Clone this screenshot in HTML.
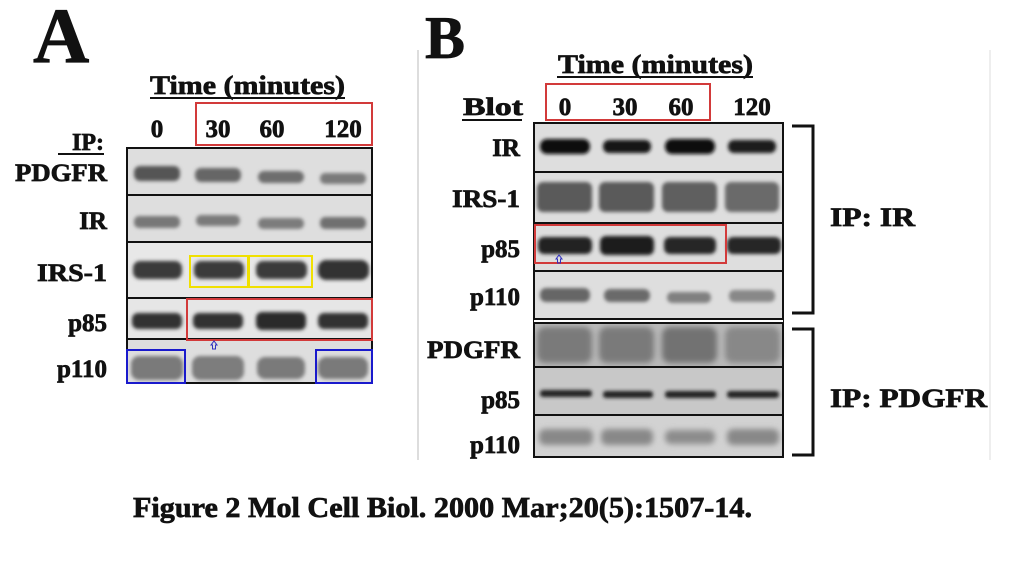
<!DOCTYPE html>
<html><head><meta charset="utf-8"><style>
html,body{margin:0;padding:0;background:#fff;width:1024px;height:587px;overflow:hidden}
svg{display:block}
text{font-family:"Liberation Serif",serif;font-weight:bold;fill:#111;stroke:#111;stroke-width:0.7}
</style></head><body>
<svg width="1024" height="587" viewBox="0 0 1024 587" xmlns="http://www.w3.org/2000/svg">
<defs>
<filter id="b" x="-20%" y="-50%" width="140%" height="200%"><feGaussianBlur stdDeviation="1.8"/></filter>
<filter id="b2" x="-20%" y="-50%" width="140%" height="200%"><feGaussianBlur stdDeviation="3"/></filter>
</defs>
<!-- Panel A -->
<text x="33" y="62" font-size="78">A</text>
<text x="150" y="94" font-size="26" textLength="195" lengthAdjust="spacingAndGlyphs">Time (minutes)</text>
<line x1="150" y1="98" x2="345" y2="98" stroke="#111" stroke-width="2"/>
<text x="157" y="137" font-size="25" text-anchor="middle">0</text>
<text x="218" y="137" font-size="25" text-anchor="middle">30</text>
<text x="272" y="137" font-size="25" text-anchor="middle">60</text>
<text x="343" y="137" font-size="25" text-anchor="middle">120</text>
<rect x="196" y="103" width="176" height="42" fill="none" stroke="#d23a3a" stroke-width="2"/>
<text x="104" y="150" font-size="24" text-anchor="end">IP:</text>
<line x1="58" y1="154" x2="104" y2="154" stroke="#111" stroke-width="2"/>
<g font-size="25" text-anchor="end">
<text x="107" y="181" textLength="92" lengthAdjust="spacingAndGlyphs">PDGFR</text>
<text x="107" y="229">IR</text>
<text x="107" y="281" textLength="70" lengthAdjust="spacingAndGlyphs">IRS-1</text>
<text x="107" y="331">p85</text>
<text x="107" y="377">p110</text>
</g>
<rect x="127" y="148" width="245" height="235" fill="#dedede"/>
<rect x="128" y="243" width="243" height="55" fill="#e8e8e8"/><rect x="128" y="299" width="243" height="40" fill="#e6e6e6"/>
<g filter="url(#b)">
<rect x="134" y="166" width="46" height="15" rx="6" fill="#555"/><rect x="195" y="168" width="46" height="14" rx="6" fill="#666"/><rect x="258" y="171" width="46" height="12" rx="6" fill="#6d6d6d"/><rect x="320" y="173" width="46" height="11" rx="5" fill="#7a7a7a"/>
<rect x="134" y="216" width="46" height="12" rx="5" fill="#777"/><rect x="196" y="215" width="44" height="11" rx="5" fill="#7a7a7a"/><rect x="258" y="218" width="46" height="11" rx="5" fill="#7c7c7c"/><rect x="320" y="217" width="46" height="12" rx="5" fill="#6f6f6f"/>
<rect x="133" y="261" width="49" height="18" rx="7" fill="#3a3a3a"/><rect x="194" y="261" width="50" height="18" rx="7" fill="#3a3a3a"/><rect x="256" y="261" width="51" height="18" rx="7" fill="#3a3a3a"/><rect x="318" y="260" width="51" height="20" rx="8" fill="#333"/>
<rect x="132" y="313" width="50" height="16" rx="6" fill="#303030"/><rect x="193" y="313" width="50" height="16" rx="6" fill="#303030"/><rect x="256" y="312" width="50" height="18" rx="6" fill="#2a2a2a"/><rect x="318" y="313" width="50" height="16" rx="6" fill="#333"/>
<rect x="131" y="356" width="52" height="24" rx="8" fill="#7a7a7a"/><rect x="192" y="356" width="52" height="24" rx="8" fill="#7d7d7d"/><rect x="257" y="357" width="48" height="22" rx="8" fill="#7a7a7a"/><rect x="318" y="357" width="50" height="22" rx="8" fill="#7a7a7a"/>
</g>
<g stroke="#111" stroke-width="2" fill="none">
<rect x="127" y="148" width="245" height="235"/>
<line x1="127" y1="195" x2="372" y2="195"/><line x1="127" y1="242" x2="372" y2="242"/><line x1="127" y1="298" x2="372" y2="298"/><line x1="127" y1="339" x2="372" y2="339"/>
</g>
<g fill="none" stroke-width="2">
<rect x="190" y="256" width="58" height="31" stroke="#f0e000"/><rect x="249" y="256" width="63" height="31" stroke="#f0e000"/>
<rect x="187" y="299" width="185" height="41" stroke="#d23a3a"/>
<rect x="127" y="350" width="58" height="33" stroke="#1a1acc"/><rect x="316" y="350" width="56" height="33" stroke="#1a1acc"/>
<path d="M211 345 l3 -4 l3 4 h-1.5 v4 h-3 v-4 z" stroke="#3030c0" stroke-width="1"/>
</g>
<!-- Panel B -->
<line x1="418" y1="50" x2="418" y2="460" stroke="#ddd" stroke-width="2"/>
<line x1="990" y1="50" x2="990" y2="460" stroke="#eee" stroke-width="2"/>
<text x="425" y="58" font-size="60">B</text>
<text x="558" y="73" font-size="26" textLength="195" lengthAdjust="spacingAndGlyphs">Time (minutes)</text>
<line x1="557" y1="77" x2="753" y2="77" stroke="#111" stroke-width="2"/>
<text x="463" y="115" font-size="25" textLength="60" lengthAdjust="spacingAndGlyphs">Blot</text>
<line x1="462" y1="120" x2="522" y2="120" stroke="#111" stroke-width="2"/>
<text x="565" y="115" font-size="25" text-anchor="middle">0</text>
<text x="625" y="115" font-size="25" text-anchor="middle">30</text>
<text x="681" y="115" font-size="25" text-anchor="middle">60</text>
<text x="752" y="115" font-size="25" text-anchor="middle">120</text>
<rect x="546" y="84" width="164" height="36" fill="none" stroke="#d23a3a" stroke-width="2"/>
<g font-size="25" text-anchor="end">
<text x="520" y="156">IR</text>
<text x="520" y="207" textLength="68" lengthAdjust="spacingAndGlyphs">IRS-1</text>
<text x="520" y="257">p85</text>
<text x="520" y="305">p110</text>
<text x="520" y="358" textLength="93" lengthAdjust="spacingAndGlyphs">PDGFR</text>
<text x="520" y="408">p85</text>
<text x="520" y="453">p110</text>
</g>
<rect x="534" y="123" width="249" height="334" fill="#dedede"/>
<rect x="534" y="322" width="249" height="45" fill="#b8b8b8"/>
<rect x="534" y="367" width="249" height="48" fill="#c8c8c8"/>
<rect x="534" y="415" width="249" height="42" fill="#d2d2d2"/>
<g filter="url(#b)">
<rect x="540" y="139" width="50" height="15" rx="7" fill="#111"/><rect x="603" y="140" width="48" height="13" rx="6" fill="#151515"/><rect x="665" y="139" width="50" height="15" rx="7" fill="#111"/><rect x="728" y="140" width="48" height="13" rx="6" fill="#1a1a1a"/>
<rect x="537" y="182" width="55" height="30" rx="6" fill="#5a5a5a"/><rect x="599" y="182" width="55" height="30" rx="6" fill="#5a5a5a"/><rect x="662" y="182" width="55" height="30" rx="6" fill="#5e5e5e"/><rect x="725" y="182" width="54" height="30" rx="6" fill="#6a6a6a"/>
<rect x="538" y="237" width="54" height="17" rx="6" fill="#222"/><rect x="600" y="236" width="54" height="19" rx="6" fill="#1e1e1e"/><rect x="664" y="237" width="52" height="17" rx="6" fill="#262626"/><rect x="727" y="237" width="54" height="17" rx="6" fill="#262626"/>
<rect x="540" y="288" width="50" height="14" rx="6" fill="#666"/><rect x="604" y="289" width="46" height="13" rx="6" fill="#6a6a6a"/><rect x="667" y="292" width="44" height="11" rx="5" fill="#808080"/><rect x="729" y="290" width="46" height="12" rx="5" fill="#888"/>
</g>
<g filter="url(#b2)">
<rect x="537" y="327" width="55" height="36" rx="8" fill="#7a7a7a"/><rect x="599" y="327" width="55" height="36" rx="8" fill="#7a7a7a"/><rect x="662" y="327" width="55" height="36" rx="8" fill="#727272"/><rect x="725" y="327" width="55" height="36" rx="8" fill="#888"/>
<rect x="539" y="429" width="54" height="16" rx="6" fill="#888"/><rect x="601" y="429" width="52" height="16" rx="6" fill="#888"/><rect x="665" y="430" width="50" height="14" rx="6" fill="#8c8c8c"/><rect x="727" y="429" width="52" height="16" rx="6" fill="#888"/>
</g>
<g filter="url(#b)">
<rect x="540" y="390" width="52" height="7" rx="3" fill="#222"/><rect x="603" y="391" width="50" height="7" rx="3" fill="#222"/><rect x="665" y="391" width="51" height="7" rx="3" fill="#222"/><rect x="727" y="391" width="52" height="7" rx="3" fill="#222"/>
</g>
<g stroke="#111" stroke-width="2" fill="none">
<rect x="534" y="123" width="249" height="334"/>
<line x1="534" y1="172" x2="783" y2="172"/><line x1="534" y1="223" x2="783" y2="223"/><line x1="534" y1="271" x2="783" y2="271"/>
<line x1="534" y1="319" x2="783" y2="319"/><line x1="534" y1="323" x2="783" y2="323"/>
<line x1="534" y1="367" x2="783" y2="367"/><line x1="534" y1="415" x2="783" y2="415"/>
</g>
<line x1="534" y1="321" x2="783" y2="321" stroke="#fff" stroke-width="2"/>
<rect x="535" y="225" width="191" height="38" fill="none" stroke="#d23a3a" stroke-width="2"/>
<path d="M556 259 l3 -4 l3 4 h-1.5 v4 h-3 v-4 z" fill="none" stroke="#3030c0" stroke-width="1"/>
<g stroke="#111" stroke-width="3" fill="none">
<path d="M792 126 H813 V313 H792"/>
<path d="M792 329 H813 V455 H792"/>
</g>
<text x="830" y="226" font-size="26" textLength="85" lengthAdjust="spacingAndGlyphs">IP: IR</text>
<text x="830" y="407" font-size="26" textLength="157" lengthAdjust="spacingAndGlyphs">IP: PDGFR</text>
<text x="133" y="517" font-size="28" textLength="619" lengthAdjust="spacingAndGlyphs" stroke-width="0.3">Figure 2 Mol Cell Biol. 2000 Mar;20(5):1507-14.</text>
</svg>
</body></html>
